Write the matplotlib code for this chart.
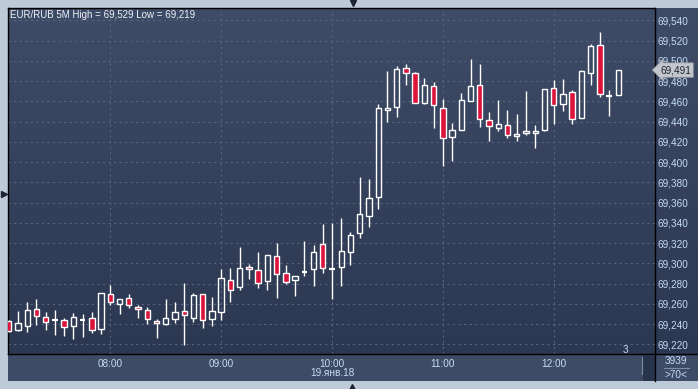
import numpy as np
import matplotlib
matplotlib.use("Agg")
import matplotlib.pyplot as plt
from matplotlib.patches import Rectangle
from matplotlib.lines import Line2D
from matplotlib.transforms import blended_transform_factory

plt.rcParams['font.family'] = ['Liberation Sans', 'DejaVu Sans']

# 5-минутные свечи EUR/RUB, 19.01.18
times = ['07:05', '07:10', '07:15', '07:20', '07:25', '07:30', '07:35', '07:40', '07:45', '07:50', '07:55',
         '08:00', '08:05', '08:10', '08:15', '08:20', '08:25', '08:30', '08:35', '08:40', '08:45', '08:50', '08:55',
         '09:00', '09:05', '09:10', '09:15', '09:20', '09:25', '09:30', '09:35', '09:40', '09:45', '09:50', '09:55',
         '10:00', '10:05', '10:10', '10:15', '10:20', '10:25', '10:30', '10:35', '10:40', '10:45', '10:50', '10:55',
         '11:00', '11:05', '11:10', '11:15', '11:20', '11:25', '11:30', '11:35', '11:40', '11:45', '11:50', '11:55',
         '12:00', '12:05', '12:10', '12:15', '12:20', '12:25', '12:30', '12:35']
opens = [69.243, 69.234, 69.238, 69.255, 69.247, 69.244, 69.244, 69.238, 69.244, 69.246, 69.235,
         69.270, 69.260, 69.266, 69.257, 69.254, 69.243, 69.240, 69.245, 69.253, 69.246, 69.270, 69.245,
         69.252, 69.284, 69.277, 69.296, 69.293, 69.283, 69.307, 69.291, 69.284, 69.292, 69.294, 69.319,
         69.294, 69.296, 69.311, 69.330, 69.347, 69.366, 69.452, 69.455, 69.493, 69.488, 69.458, 69.475,
         69.454, 69.425, 69.432, 69.460, 69.476, 69.442, 69.434, 69.437, 69.426, 69.429, 69.429, 69.432,
         69.473, 69.457, 69.469, 69.444, 69.488, 69.516, 69.465, 69.466]
highs = [69.244, 69.253, 69.262, 69.265, 69.252, 69.254, 69.246, 69.251, 69.250, 69.252, 69.271,
         69.279, 69.265, 69.270, 69.259, 69.257, 69.245, 69.265, 69.262, 69.281, 69.271, 69.270, 69.267,
         69.294, 69.295, 69.316, 69.299, 69.311, 69.308, 69.320, 69.298, 69.288, 69.322, 69.318, 69.339,
         69.340, 69.345, 69.331, 69.385, 69.383, 69.457, 69.490, 69.495, 69.497, 69.489, 69.483, 69.479,
         69.462, 69.439, 69.468, 69.502, 69.497, 69.450, 69.461, 69.452, 69.448, 69.470, 69.437, 69.472,
         69.481, 69.482, 69.471, 69.491, 69.517, 69.529, 69.471, 69.491]
lows = [69.232, 69.233, 69.232, 69.239, 69.234, 69.229, 69.228, 69.225, 69.227, 69.231, 69.230,
        69.259, 69.250, 69.256, 69.246, 69.240, 69.226, 69.239, 69.241, 69.219, 69.242, 69.236, 69.238,
        69.244, 69.262, 69.274, 69.285, 69.276, 69.274, 69.266, 69.280, 69.268, 69.288, 69.278, 69.291,
        69.265, 69.278, 69.298, 69.325, 69.336, 69.354, 69.440, 69.445, 69.476, 69.458, 69.457, 69.434,
        69.396, 69.401, 69.432, 69.460, 69.435, 69.421, 69.431, 69.424, 69.421, 69.427, 69.414, 69.431,
        69.438, 69.451, 69.438, 69.444, 69.476, 69.464, 69.446, 69.466]
closes = [69.233, 69.241, 69.254, 69.248, 69.242, 69.244, 69.237, 69.247, 69.244, 69.234, 69.271,
          69.262, 69.265, 69.259, 69.255, 69.245, 69.241, 69.246, 69.252, 69.249, 69.269, 69.244, 69.253,
          69.286, 69.274, 69.295, 69.294, 69.281, 69.308, 69.290, 69.282, 69.288, 69.292, 69.311, 69.295,
          69.294, 69.312, 69.328, 69.349, 69.365, 69.454, 69.454, 69.492, 69.488, 69.458, 69.476, 69.456,
          69.424, 69.432, 69.461, 69.475, 69.443, 69.436, 69.438, 69.427, 69.428, 69.431, 69.431, 69.472,
          69.456, 69.467, 69.443, 69.490, 69.515, 69.467, 69.465, 69.491]

hour_labels = ['08:00', '09:00', '10:00', '11:00', '12:00']
y_ticks = [69.22, 69.24, 69.26, 69.28, 69.30, 69.32, 69.34, 69.36, 69.38, 69.40,
           69.42, 69.44, 69.46, 69.48, 69.50, 69.52, 69.54]
title = 'EUR/RUB 5M High = 69,529 Low = 69,219'
date_label = '19.янв.18'
last_price = closes[-1]

def slot(t):
    h, m = t.split(':')
    return (int(h) * 60 + int(m) - 480) / 5.0

xs = np.array([slot(t) for t in times])
hour_x = [slot(t) for t in hour_labels]

W, H = 698, 389
frame_c = '#bfcad9'
text_c = '#c4dbf5'
down_c = '#dc143c'
fs = 7.2

def fx(px):
    return px / W

def fy(py):
    return 1 - py / H

fig = plt.figure(figsize=(W / 100, H / 100), dpi=100)
fig.patch.set_facecolor(frame_c)

def gradient_axes(rect, z):
    a = fig.add_axes(rect, zorder=z)
    grad = np.linspace(0, 1, 256).reshape(-1, 1)
    cmap = matplotlib.colors.LinearSegmentedColormap.from_list('bg', ['#3f4c67', '#2c3751'])
    a.imshow(grad, aspect='auto', cmap=cmap, extent=[0, 1, 0, 1], transform=a.transAxes, zorder=0)
    a.set_axis_off()
    return a

# фон графика и правой шкалы
gradient_axes([fx(8), fy(354), fx(655 - 8), (354 - 7.5) / H], 0)
gradient_axes([fx(655), fy(354), fx(698 - 655), (354 - 7.5) / H], 0)
# нижняя полоса времени
bot = fig.add_axes([fx(8), fy(381), fx(698 - 8), (381 - 354) / H], zorder=0)
bot.set_facecolor('#3e4b66')
bot.set_xticks([]); bot.set_yticks([])
for s in bot.spines.values():
    s.set_visible(False)

ax = fig.add_axes([fx(8), fy(354), fx(655 - 8), (354 - 7.5) / H], zorder=2)
ax.patch.set_alpha(0)

# сетка
for yt in y_ticks:
    ax.axhline(yt, color='#56647f', lw=0.8, ls=(0, (2, 3)), zorder=1)
for hx in hour_x:
    ax.axvline(hx, color='#56647f', lw=0.8, ls=(0, (2, 3)), zorder=1)

# свечи
w = 0.58
for x, o, h, l, c in zip(xs, opens, highs, lows, closes):
    top, bottom = max(o, c), min(o, c)
    ax.plot([x, x], [top, h], color='white', lw=1.0, zorder=3, solid_capstyle='butt')
    ax.plot([x, x], [l, bottom], color='white', lw=1.0, zorder=3, solid_capstyle='butt')
    if abs(c - o) < 0.0015:
        ax.plot([x - w / 2, x + w / 2], [o, o], color='white', lw=1.6, zorder=4, solid_capstyle='butt')
    else:
        fc = down_c if c < o else 'none'
        ax.add_patch(Rectangle((x - w / 2, bottom), w, top - bottom, fc=fc, ec='white', lw=1.0, zorder=4))

ax.set_xlim(xs[0] - 0.08, xs[-1] + 3.97)
ax.set_ylim(69.2105, 69.5528)

ax.yaxis.tick_right()
ax.set_yticks(y_ticks)
ax.set_yticklabels([f'{v:.3f}'.replace('.', ',') for v in y_ticks])
ax.set_xticks(hour_x)
ax.set_xticklabels(hour_labels)
ax.tick_params(axis='y', length=0, pad=2, labelsize=fs, labelcolor=text_c)
ax.tick_params(axis='x', length=0, pad=3.5, labelsize=fs, labelcolor=text_c)
for s in ax.spines.values():
    s.set_color('black')
    s.set_linewidth(1.0)

trans = blended_transform_factory(ax.transData, fig.transFigure)
ax.text(slot('10:00'), fy(373), date_label, transform=trans, ha='center', va='center',
        fontsize=fs, color=text_c)

# текущая цена
ytr = blended_transform_factory(ax.transAxes, ax.transData)
ax.text(1.008, last_price, '69,491', transform=ytr, ha='left', va='center', fontsize=fs,
        color='#1e2430', zorder=10, clip_on=False,
        bbox=dict(boxstyle='larrow,pad=0.22', fc='#c3c7cd', ec='#9aa0a8', lw=0.5))

# счётчик внизу
ax.text(xs[-1] + 0.75, 69.2145, '3', fontsize=fs, color=text_c, ha='center', va='center', zorder=5)

fig.text(fx(10), fy(15), title, fontsize=7.0, color='#eef2f8', ha='left', va='center')

# правый нижний угол
fig.add_artist(Rectangle((fx(643), fy(381)), fx(12), (381 - 355) / H, transform=fig.transFigure,
                         fc='#28334c', ec='none', zorder=3))
fig.add_artist(Line2D([fx(641.5), fx(641.5)], [fy(374), fy(357)], color='#7d8ba3', lw=0.8, zorder=3))
fig.add_artist(Line2D([fx(655), fx(655)], [fy(381), fy(354)], color='black', lw=1.0, zorder=3))
fig.add_artist(Line2D([fx(655), fx(698)], [fy(354), fy(354)], color='black', lw=1.0, zorder=3))
fig.add_artist(Line2D([fx(664), fx(689)], [fy(368), fy(368)], color='#7d8ba3', lw=0.8, zorder=3))
fig.text(fx(676), fy(361), '3939', fontsize=fs, color=text_c, ha='center', va='center')
fig.text(fx(676), fy(375), '>70<', fontsize=fs, color=text_c, ha='center', va='center')

# стрелки на рамке
fig.add_artist(Line2D([fx(353)], [fy(3)], marker='v', ms=5, color='#1c2434', lw=0))
fig.add_artist(Line2D([fx(352)], [fy(386.5)], marker='^', ms=5, color='#1c2434', lw=0))
fig.add_artist(Line2D([fx(3.5)], [fy(194)], marker='>', ms=5, color='#1c2434', lw=0))

fig.savefig('out.png', dpi=100, facecolor=fig.get_facecolor())
